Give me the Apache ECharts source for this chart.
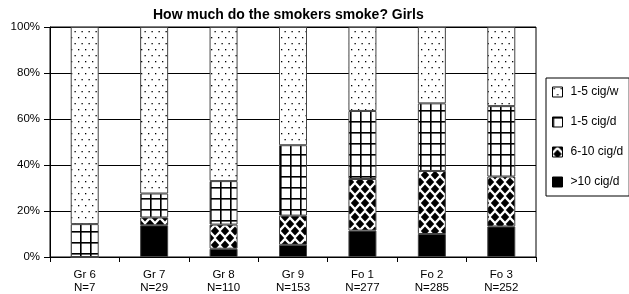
<!DOCTYPE html>
<html>
<head>
<meta charset="utf-8">
<script src="https://cdn.jsdelivr.net/npm/echarts@6/dist/echarts.min.js"></script>
<style>
  html, body { margin: 0; padding: 0; background: #fff; }
  #chart { width: 629px; height: 294px; }
</style>
</head>
<body>
<div id="chart"></div>
<script>
// school grades and sample sizes
var grades = ["Gr 6", "Gr 7", "Gr 8", "Gr 9", "Fo 1", "Fo 2", "Fo 3"];
var sampleSizes = [7, 29, 110, 153, 277, 285, 252];

// percent of smoking girls in each group (stacked bottom -> top)
var over10PerDay = [0, 13.8, 3.6, 5.3, 11.5, 10.0, 13.3];
var sixTo10PerDay = [0, 3.4, 10.5, 12.7, 22.4, 27.4, 21.7];
var oneTo5PerDay = [14.3, 10.4, 18.9, 30.6, 29.6, 29.4, 30.6];
var oneTo5PerWeek = [85.7, 72.4, 67.0, 51.4, 36.5, 33.2, 34.4];

var yTicks = [0, 20, 40, 60, 80, 100];

function makePattern(w, h, draw) {
  var c = document.createElement("canvas");
  c.width = w;
  c.height = h;
  var ctx = c.getContext("2d");
  ctx.fillStyle = "#fff";
  ctx.fillRect(0, 0, w, h);
  ctx.fillStyle = "#000";
  ctx.strokeStyle = "#000";
  draw(ctx);
  return { image: c, repeat: "repeat" };
}

var dots = makePattern(7, 12, function (ctx) {
  ctx.fillRect(1, 1, 1.3, 1.3);
  ctx.fillRect(4.5, 7, 1.3, 1.3);
});

var grid = makePattern(10, 11, function (ctx) {
  ctx.fillRect(0, 0, 10, 1.6);
  ctx.fillRect(0, 0, 1.6, 11);
});

var diamonds = makePattern(10, 14, function (ctx) {
  function diamond(cx, cy) {
    ctx.beginPath();
    ctx.moveTo(cx, cy - 4.6);
    ctx.lineTo(cx + 4.2, cy);
    ctx.lineTo(cx, cy + 4.6);
    ctx.lineTo(cx - 4.2, cy);
    ctx.closePath();
    ctx.fill();
  }
  diamond(0, 0); diamond(10, 0); diamond(0, 14); diamond(10, 14);
  diamond(5, 7);
});

var solid = "#000";

var chart = echarts.init(document.getElementById("chart"));

function barSeries(name, data, color) {
  return {
    name: name,
    type: "bar",
    stack: "total",
    barWidth: 28,
    data: data,
    itemStyle: { color: color, borderColor: "#444", borderWidth: 1 }
  };
}

var option = {
  animation: false,
  textStyle: { fontFamily: "Liberation Sans, Arial, sans-serif", color: "#000" },
  title: {
    text: "How much do the smokers smoke? Girls",
    left: 148,
    top: 3,
    textStyle: { fontSize: 14, fontWeight: "bold", color: "#000", fontFamily: "Liberation Sans, Arial, sans-serif" }
  },
  legend: {
    orient: "vertical",
    left: 546,
    top: 78,
    padding: [8, 6, 8, 6],
    itemGap: 18,
    itemWidth: 10,
    itemHeight: 10,
    icon: "rect",
    borderColor: "#000",
    borderWidth: 1,
    data: ["1-5 cig/w", "1-5 cig/d", "6-10 cig/d", ">10 cig/d"],
    itemStyle: { borderColor: "#000", borderWidth: 1 },
    textStyle: { fontSize: 12, color: "#000", padding: [0, 0, 0, 3], fontFamily: "Liberation Sans, Arial, sans-serif" }
  },
  grid: {
    left: 50,
    right: 93,
    top: 27,
    bottom: 37,
    show: true,
    borderColor: "#000",
    borderWidth: 1
  },
  xAxis: {
    type: "category",
    data: grades.map(function (g, i) { return g + "\nN=" + sampleSizes[i]; }),
    axisLine: { lineStyle: { color: "#000", width: 1 } },
    axisTick: { show: true, length: 5, lineStyle: { color: "#000" } },
    axisLabel: { fontSize: 11.5, lineHeight: 13, color: "#000", margin: 11 }
  },
  yAxis: {
    type: "value",
    min: yTicks[0],
    max: yTicks[yTicks.length - 1],
    interval: 20,
    axisLine: { show: true, lineStyle: { color: "#000" } },
    axisTick: { show: true, length: 6, lineStyle: { color: "#000" } },
    axisLabel: { formatter: "{value}%", fontSize: 11.5, color: "#000", margin: 10 },
    splitLine: { lineStyle: { color: "#000", width: 1 } }
  },
  series: [
    barSeries(">10 cig/d", over10PerDay, solid),
    barSeries("6-10 cig/d", sixTo10PerDay, diamonds),
    barSeries("1-5 cig/d", oneTo5PerDay, grid),
    barSeries("1-5 cig/w", oneTo5PerWeek, dots)
  ]
};

chart.setOption(option);
</script>
</body>
</html>
